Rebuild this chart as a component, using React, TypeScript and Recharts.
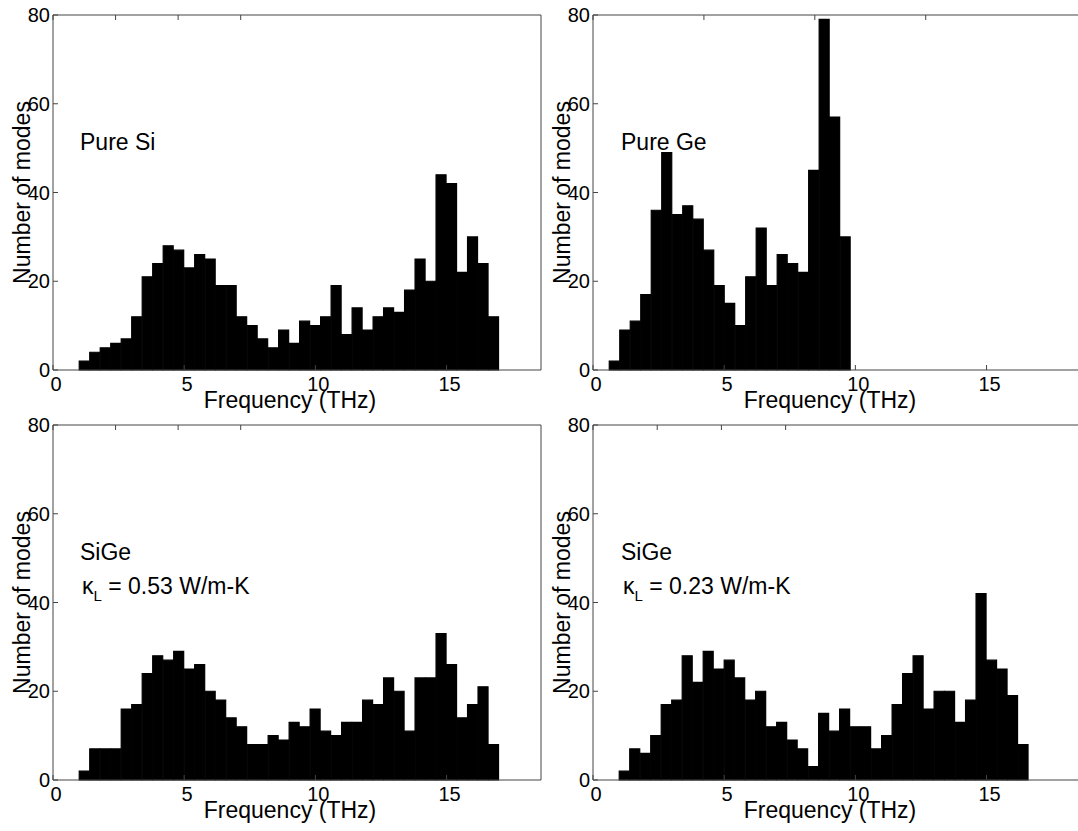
import { Bar, BarChart, XAxis, YAxis } from "recharts";

// histogram bins are 0.4 THz wide; each panel lists counts from its first bin edge
const BIN_WIDTH = 0.4;

const siStart = 1.0;
const siCounts = [2, 4, 5, 6, 7, 12, 21, 24, 28, 27, 23, 26, 25, 19, 19, 12, 10, 7, 5, 9, 6, 11, 10, 12, 19, 8, 14, 9, 12, 14, 13, 18, 25, 20, 44, 42, 22, 30, 24, 12];

const geStart = 0.62;
const geCounts = [2, 9, 11, 17, 36, 49, 35, 37, 34, 27, 19, 15, 10, 21, 32, 19, 26, 24, 22, 45, 79, 57, 30];

const sige053Start = 1.0;
const sige053Counts = [2, 7, 7, 7, 16, 17, 24, 28, 27, 29, 25, 26, 20, 18, 14, 12, 8, 8, 10, 9, 13, 12, 16, 11, 10, 13, 13, 18, 17, 23, 20, 11, 23, 23, 33, 26, 14, 17, 21, 8];

const sige023Start = 1.0;
const sige023Counts = [2, 7, 6, 10, 17, 18, 28, 22, 29, 25, 27, 23, 18, 20, 12, 13, 9, 7, 3, 15, 11, 16, 12, 12, 7, 10, 17, 24, 28, 16, 20, 20, 13, 18, 42, 27, 25, 19, 8];

const xTicks = [0, 5, 10, 15];
const yTicks = [0, 20, 40, 60, 80];
const X_MAX = 18.6;
const Y_MAX = 80;

const AXIS = "#444";
const FONT = '"Liberation Sans", Arial, Helvetica, sans-serif';

function toBins(start: number, counts: number[]) {
  return counts.map((count, i) => ({
    freq: +(start + BIN_WIDTH * (i + 0.5)).toFixed(3),
    count,
  }));
}

const X_MARGIN = 7;
const Y_MARGIN = 3;

function BottomTick(props: any) {
  const { x, y, payload } = props;
  const axisY = y - X_MARGIN;
  return (
    <g>
      <line x1={x} x2={x} y1={axisY} y2={axisY - 5} stroke={AXIS} />
      <text x={x + 3} y={y} dy="0.72em" textAnchor="middle" fontSize={20} fill="#000">
        {payload.value}
      </text>
    </g>
  );
}

function LeftTick(props: any) {
  const { x, y, payload } = props;
  const axisX = x + Y_MARGIN;
  return (
    <g>
      <line x1={axisX} x2={axisX + 5} y1={y} y2={y} stroke={AXIS} />
      <text x={x} y={y} dy="0.36em" textAnchor="end" fontSize={20} fill="#000">
        {payload.value}
      </text>
    </g>
  );
}

function TopTick(props: any) {
  const { x, y } = props;
  return <line x1={x} x2={x} y1={y} y2={y + 5} stroke={AXIS} />;
}

function RightTick(props: any) {
  const { x, y } = props;
  return <line x1={x} x2={x - 5} y1={y} y2={y} stroke={AXIS} />;
}

interface PanelProps {
  data: { freq: number; count: number }[];
  left: number;
  top: number;
}

function Panel({ data, left, top }: PanelProps) {
  return (
    <div style={{ position: "absolute", left, top }}>
      <BarChart
        width={560}
        height={420}
        data={data}
        margin={{ top: 14, right: 18, bottom: 0, left: 0 }}
        barCategoryGap={0}
        barGap={0}
      >
        <XAxis
          dataKey="freq"
          type="number"
          domain={[0, X_MAX]}
          ticks={xTicks}
          allowDataOverflow
          height={50}
          tickSize={0}
          tickMargin={X_MARGIN}
          tickLine={false}
          axisLine={{ stroke: AXIS }}
          tick={<BottomTick />}
          label={{ value: "Frequency (THz)", position: "insideBottom", offset: 12, dx: -7, fontSize: 23, fill: "#000" }}
        />
        <XAxis
          xAxisId="top"
          orientation="top"
          type="number"
          domain={[0, X_MAX]}
          ticks={xTicks}
          allowDataOverflow
          height={1}
          tickSize={0}
          tickMargin={0}
          tickLine={false}
          axisLine={{ stroke: AXIS }}
          tick={<TopTick />}
        />
        <YAxis
          type="number"
          domain={[0, Y_MAX]}
          ticks={yTicks}
          width={53}
          tickSize={0}
          tickMargin={Y_MARGIN}
          tickLine={false}
          axisLine={{ stroke: AXIS }}
          tick={<LeftTick />}
          label={{
            value: "Number of modes",
            angle: -90,
            position: "insideLeft",
            offset: 22,
            fontSize: 23,
            fill: "#000",
            style: { textAnchor: "middle" },
          }}
        />
        <YAxis
          yAxisId="right"
          orientation="right"
          type="number"
          domain={[0, Y_MAX]}
          ticks={yTicks}
          width={1}
          tickSize={0}
          tickMargin={0}
          tickLine={false}
          axisLine={{ stroke: AXIS }}
          tick={<RightTick />}
        />
        <Bar dataKey="count" fill="#000" stroke="#000" strokeWidth={1.2} isAnimationActive={false} />
      </BarChart>
    </div>
  );
}

function Kappa({ x, y, value }: { x: number; y: number; value: string }) {
  return (
    <text x={x} y={y} fontSize={23} fill="#000">
      κ
      <tspan dy={7} fontSize={15}>L</tspan>
      <tspan dy={-7}>{` = ${value} W/m-K`}</tspan>
    </text>
  );
}

export default function App() {
  return (
    <div
      style={{
        position: "absolute",
        left: 0,
        top: 0,
        width: 1078,
        height: 831,
        overflow: "hidden",
        background: "#fff",
        fontFamily: FONT,
      }}
    >
      <Panel data={toBins(siStart, siCounts)} left={0} top={0} />
      <Panel data={toBins(geStart, geCounts)} left={540} top={0} />
      <Panel data={toBins(sige053Start, sige053Counts)} left={0} top={410} />
      <Panel data={toBins(sige023Start, sige023Counts)} left={540} top={410} />
      <svg
        width={1078}
        height={831}
        style={{ position: "absolute", left: 0, top: 0, pointerEvents: "none" }}
      >
        <text x={80} y={150} fontSize={23} fill="#000">Pure Si</text>
        <text x={621} y={150} fontSize={23} fill="#000">Pure Ge</text>
        <text x={80} y={560} fontSize={23} fill="#000">SiGe</text>
        <Kappa x={82} y={594} value="0.53" />
        <text x={621} y={560} fontSize={23} fill="#000">SiGe</text>
        <Kappa x={623} y={594} value="0.23" />
      </svg>
    </div>
  );
}
